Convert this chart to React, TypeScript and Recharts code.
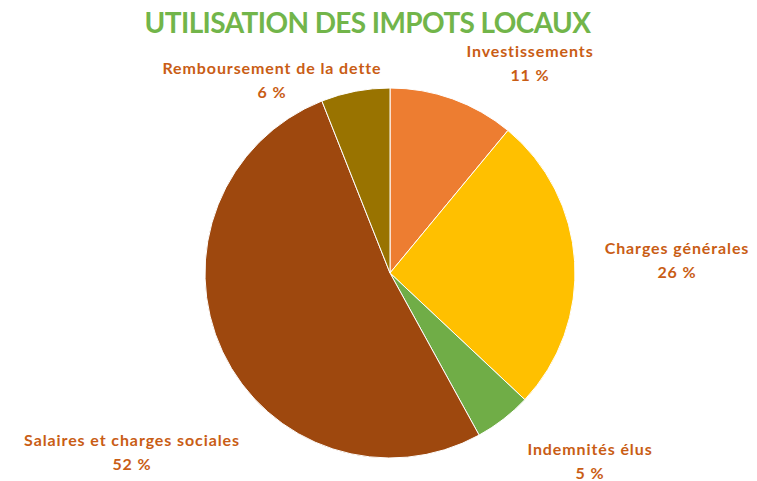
import React from "react";
import { PieChart, Pie, Cell } from "recharts";

const categories = [
  "Investissements",
  "Charges générales",
  "Indemnités élus",
  "Salaires et charges sociales",
  "Remboursement de la dette",
];
const shares = [11, 26, 5, 52, 6];
const colors = ["#ED7D31", "#FFC000", "#70AD47", "#9E480E", "#997300"];

// label block centres, relative to the pie centre (Excel "best fit")
const labelOffsets: [number, number][] = [
  [140, -211],
  [287, -14],
  [200, 187],
  [-258, 178],
  [-118, -194],
];

const data = categories.map((name, i) => ({ name, value: shares[i] }));

const LABEL_COLOR = "#C95D15";

function renderLabel(props: any) {
  const { cx, cy, index, value } = props;
  const [dx, dy] = labelOffsets[index];
  const x = cx + dx;
  const y = cy + dy;
  const common = {
    textAnchor: "middle" as const,
    dominantBaseline: "central" as const,
    fill: LABEL_COLOR,
    fontSize: 16,
    fontWeight: 700,
    fontFamily: "Lato, sans-serif",
    letterSpacing: 0.9,
  };
  return (
    <g key={`lbl-${index}`}>
      <text x={x} y={y - 12} {...common}>
        {categories[index]}
      </text>
      <text x={x} y={y + 12} {...common}>
        {`${value} %`}
      </text>
    </g>
  );
}

export default function App() {
  return (
    <div
      style={{
        position: "absolute",
        left: 0,
        top: 0,
        width: 757,
        height: 481,
        background: "#fff",
      }}
    >
      <div
        style={{
          position: "absolute",
          left: 0,
          top: 4,
          width: 757,
          textAlign: "center",
          paddingRight: 22,
          boxSizing: "border-box",
          color: "#72B54A",
          fontFamily: "Lato, sans-serif",
          fontWeight: 700,
          fontSize: 28,
          letterSpacing: -0.6,
          lineHeight: "36px",
        }}
      >
        UTILISATION DES IMPOTS LOCAUX
      </div>
      <PieChart width={757} height={481} margin={{ top: 0, right: 0, bottom: 0, left: 0 }}>
        <Pie
          data={data}
          dataKey="value"
          nameKey="name"
          cx={390}
          cy={273}
          outerRadius={185}
          startAngle={90}
          endAngle={-270}
          stroke="#ffffff"
          strokeWidth={1}
          labelLine={false}
          label={renderLabel}
          isAnimationActive={false}
        >
          {data.map((d, i) => (
            <Cell key={d.name} fill={colors[i]} />
          ))}
        </Pie>
      </PieChart>
    </div>
  );
}
